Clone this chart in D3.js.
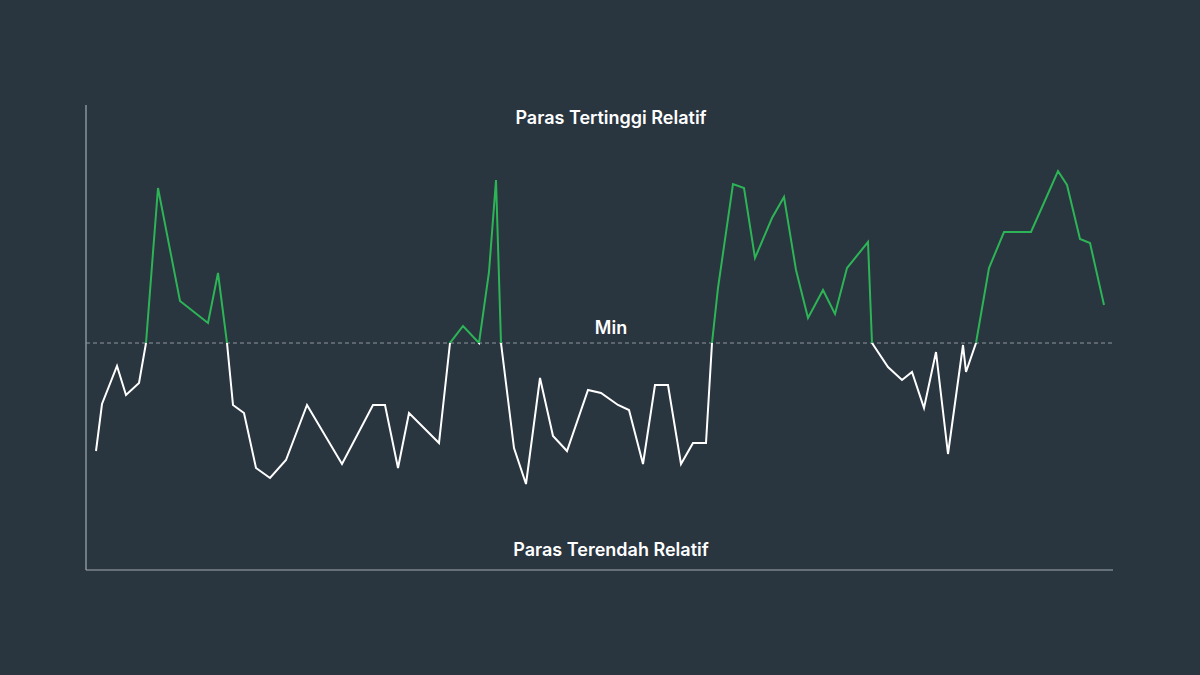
<!DOCTYPE html>
<html><head><meta charset="utf-8">
<script src="https://cdn.jsdelivr.net/npm/d3@7"></script>
<style>body{margin:0;background:#29353f}svg{display:block}</style>
</head><body><svg id="c" width="1200" height="675"></svg>
<script>
// time positions and price relative to the "Min" level (positive = above)
const times = [10,16,31,40,53,60,72,94,122,132,141,147,158,170,184,200,221,256,287,299,312,323,353,364,377,393,403,410,415,428,440,454,467,481,502,515,532,543,557,569,582,595,607,620,626,632,647,658,669,686,698,710,722,737,749,761,782,786,802,816,826,838,850,862,877,880,890,903,918,945,957,972,981,994,1004,1018];
const values = [-108,-61,-23,-52,-40,0,155,42,20,70,0,-62,-70,-125,-135,-117,-62,-121,-62,-62,-125,-70,-100,0,17,0,71,163,0,-105,-141,-35,-93,-108,-47,-50,-62,-67,-121,-42,-42,-121,-100,-100,0,55,159,155,85,125,146,73,25,53,29,75,101,0,-24,-37,-29,-65,-9,-111,-2,-29,0,75,111,111,138,172,158,104,100,38,-19];
const labels = {top:"Paras Tertinggi Relatif", mid:"Min", bottom:"Paras Terendah Relatif"};

const svg = d3.select("#c");
const x = d3.scaleLinear().domain([0,1027]).range([86,1113]);
const y = d3.scaleLinear().domain([0,100]).range([343,243]);
const pts = times.map((t,i)=>[t,values[i]]);
const line = d3.line().x(d=>x(d[0])).y(d=>y(d[1]));

svg.append("line").attr("x1",86).attr("x2",86).attr("y1",105).attr("y2",570).attr("stroke","#a3abb2").attr("stroke-width",1.2);
svg.append("line").attr("x1",86).attr("x2",1113).attr("y1",570).attr("y2",570).attr("stroke","#a3abb2").attr("stroke-width",1.2);
svg.append("line").attr("x1",86).attr("x2",1113).attr("y1",y(0)).attr("y2",y(0)).attr("stroke","#8e979e").attr("stroke-dasharray","4,3");

const defs = svg.append("defs");
defs.append("clipPath").attr("id","above").append("rect").attr("x",0).attr("y",0).attr("width",1200).attr("height",y(0));
defs.append("clipPath").attr("id","below").append("rect").attr("x",0).attr("y",y(0)).attr("width",1200).attr("height",400);

svg.append("path").attr("d",line(pts)).attr("fill","none").attr("stroke","#2db456").attr("stroke-width",2).attr("clip-path","url(#above)");
svg.append("path").attr("d",line(pts)).attr("fill","none").attr("stroke","#ffffff").attr("stroke-width",2).attr("clip-path","url(#below)");

const txt = (t,yy)=>svg.append("text").attr("x",611).attr("y",yy).attr("text-anchor","middle")
  .attr("fill","#fff").attr("font-family","Inter, 'Open Sans', sans-serif").attr("font-weight",600).attr("font-size",18).text(t);
txt(labels.top,124); txt(labels.mid,334); txt(labels.bottom,556);
</script></body></html>
